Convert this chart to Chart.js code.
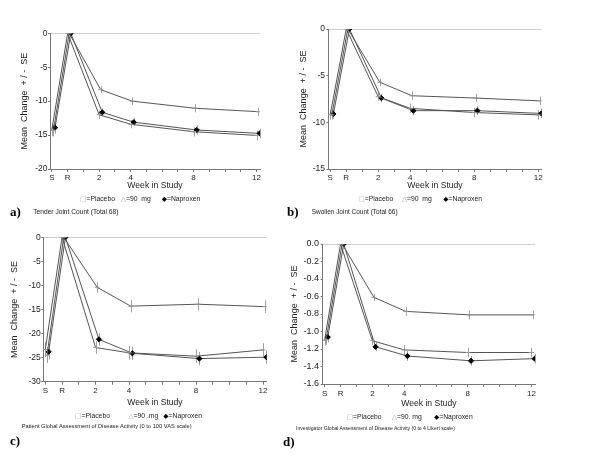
<!DOCTYPE html>
<html><head><meta charset="utf-8">
<script src="https://cdn.jsdelivr.net/npm/chart.js@4/dist/chart.umd.min.js"></script>
<style>
body{margin:0;background:#fff;}
#wrap{position:relative;width:600px;height:470px;overflow:hidden;font-family:"Liberation Sans",Arial,sans-serif;color:#222;background:#fff;}
canvas{position:absolute;left:0;top:0;}
.t{position:absolute;white-space:nowrap;line-height:1;}
.lg{font-size:6.8px;}
.sym{font-family:"DejaVu Sans",sans-serif;color:#aaa;font-size:6.8px;}
.symk{font-family:"DejaVu Sans",sans-serif;color:#000;font-size:6.8px;}
.note{font-size:6.2px;}
.lab{font-family:"Liberation Serif","Times New Roman",serif;font-weight:bold;font-size:13px;color:#000;}
</style></head>
<body><div id="wrap">
<canvas id="ca" width="600" height="470"></canvas>
<canvas id="cb" width="600" height="470"></canvas>
<canvas id="cc" width="600" height="470"></canvas>
<canvas id="cd" width="600" height="470"></canvas>

<div class="t lg" style="left:80px;top:196px"><span class="sym">□</span>=Placebo</div>
<div class="t lg" style="left:120.7px;top:196px"><span class="sym">△</span>=90&nbsp; mg</div>
<div class="t lg" style="left:161.7px;top:196px"><span class="symk">◆</span>=Naproxen</div>
<div class="t note" id="na" style="left:33.3px;top:209.2px">Tender Joint Count (Total 68)</div>
<div class="t lab" style="left:10px;top:205.3px">a)</div>

<div class="t lg" style="left:358.3px;top:195.7px"><span class="sym">□</span>=Placebo</div>
<div class="t lg" style="left:401.7px;top:195.7px"><span class="sym">△</span>=90&nbsp; mg</div>
<div class="t lg" style="left:443.3px;top:195.7px"><span class="symk">◆</span>=Naproxen</div>
<div class="t note" id="nb" style="left:311.7px;top:209.2px">Swollen Joint Count (Total 66)</div>
<div class="t lab" style="left:287px;top:205.3px">b)</div>

<div class="t lg" style="left:75px;top:413.3px"><span class="sym">□</span>=Placebo</div>
<div class="t lg" style="left:128.3px;top:413.3px"><span class="sym">△</span>=90 .mg</div>
<div class="t lg" style="left:163.3px;top:413.3px"><span class="symk">◆</span>=Naproxen</div>
<div class="t note" id="nc" style="left:21.7px;top:423.7px">Patient Global Assessment of Disease Activity (0 to 100 VAS scale)</div>
<div class="t lab" style="left:10px;top:434.3px">c)</div>

<div class="t lg" style="left:346.7px;top:414px"><span class="sym">□</span>=Placebo</div>
<div class="t lg" style="left:391.7px;top:414px"><span class="sym">△</span>=90. mg</div>
<div class="t lg" style="left:434px;top:414px"><span class="symk">◆</span>=Naproxen</div>
<div class="t note" id="nd" style="left:296px;top:425.5px">Investigator Global Assessment of Disease Activity (0 to 4 Likert scale)</div>
<div class="t lab" style="left:283px;top:435px">d)</div>
</div>
<script>
// ---- data ----
const weeks = [-1, 0, 2, 4, 8, 12];
const tickMarks = [-1,0,1,2,3,4,5,6,7,8,9,10,11,12];
const tickValues = [-1, 0, 2, 4, 8, 12];
const tickText = ["S", "R", "2", "4", "8", "12"];
const seriesNames = ["Placebo", "90 mg", "Naproxen"];
const dodge = [0.1, 0, 0.2];

// a) Tender joint count
const aPlacebo   = [-14.3, 0, -8.3, -10.0, -11.05, -11.55];
const a90mg      = [-14.2, 0, -12.0, -13.4, -14.5, -15.05];
const aNaproxen  = [-13.9, 0, -11.65, -13.1, -14.25, -14.75];
const aPlaceboSE = [0.9, 0, 0.5, 0.55, 0.6, 0.6];
const a90mgSE    = [0.9, 0, 0.6, 0.6, 0.7, 0.7];
const aNaproxenSE= [0.9, 0, 0.6, 0.6, 0.7, 0.7];

// b) Swollen joint count
const bPlacebo   = [-9.2, 0, -5.7, -7.15, -7.4, -7.7];
const b90mg      = [-9.2, 0, -7.25, -8.5, -8.95, -9.2];
const bNaproxen  = [-9.1, 0, -7.4, -8.75, -8.75, -9.05];
const bPlaceboSE = [0.5, 0, 0.4, 0.45, 0.45, 0.45];
const b90mgSE    = [0.5, 0, 0.45, 0.5, 0.5, 0.5];
const bNaproxenSE= [0.5, 0, 0.45, 0.5, 0.5, 0.5];

// c) Patient global assessment
const cPlacebo   = [-24.5, 0, -10.4, -14.3, -13.9, -14.4];
const c90mg      = [-23.3, 0, -22.9, -24.0, -24.7, -23.4];
const cNaproxen  = [-23.8, 0, -21.2, -24.1, -25.2, -24.9];
const cPlaceboSE = [1.6, 0, 1.1, 1.3, 1.3, 1.3];
const c90mgSE    = [1.6, 0, 1.3, 1.4, 1.4, 1.4];
const cNaproxenSE= [1.6, 0, 1.3, 1.4, 1.4, 1.4];

// d) Investigator global assessment
const dPlacebo   = [-1.09, 0, -0.61, -0.77, -0.81, -0.81];
const d90mg      = [-1.1, 0, -1.105, -1.21, -1.24, -1.24];
const dNaproxen  = [-1.065, 0, -1.175, -1.28, -1.335, -1.31];
const dPlaceboSE = [0.06, 0, 0.04, 0.05, 0.05, 0.05];
const d90mgSE    = [0.06, 0, 0.05, 0.055, 0.055, 0.055];
const dNaproxenSE= [0.06, 0, 0.05, 0.055, 0.055, 0.055];

// ---- drawing ----
const FONT = "'Liberation Sans', Arial, sans-serif";
const errorBars = {
  id: 'errorBars',
  beforeDatasetsDraw(chart) {
    const ctx = chart.ctx, ys = chart.scales.y;
    chart.data.datasets.forEach((ds, di) => {
      const meta = chart.getDatasetMeta(di);
      ds.se.forEach((e, i) => {
        if (!e) return;
        const pt = meta.data[i], v = ds.data[i].y;
        ctx.save();
        ctx.strokeStyle = '#a0a0a0';
        ctx.lineWidth = 1;
        ctx.beginPath();
        ctx.moveTo(Math.round(pt.x) + 0.5, ys.getPixelForValue(v + e));
        ctx.lineTo(Math.round(pt.x) + 0.5, ys.getPixelForValue(v - e));
        ctx.stroke();
        ctx.restore();
      });
    });
  }
};

function series(vals, se, k) {
  const styles = [
    {pointStyle: 'line', pointRadius: 2.5, pointBorderColor: '#999', pointBackgroundColor: '#999'},
    {pointStyle: 'line', pointRadius: 2.5, pointBorderColor: '#999', pointBackgroundColor: '#999'},
    {pointStyle: 'rectRot', pointRadius: 2.6, pointBorderColor: '#000', pointBackgroundColor: '#000'}
  ];
  return Object.assign({
    label: seriesNames[k],
    data: vals.map((v, i) => ({x: weeks[i] + dodge[k], y: v})),
    se: se,
    showLine: true,
    borderColor: '#555',
    borderWidth: 1,
    tension: 0,
    pointBorderWidth: 1
  }, styles[k]);
}

function panel(id, data, o) {
  new Chart(document.getElementById(id), {
    type: 'scatter',
    data: {datasets: data},
    plugins: [errorBars],
    options: {
      responsive: false, animation: false, devicePixelRatio: 1,
      layout: {padding: {left: o.yLeft, top: o.top, right: 600 - o.right, bottom: 470 - o.bottom - o.xH}},
      plugins: {legend: {display: false}, tooltip: {enabled: false}},
      scales: {
        x: {
          type: 'linear', min: -1.12, max: 12.22,
          afterBuildTicks: s => { s.ticks = tickMarks.map(v => ({value: v})); },
          afterFit: s => { s.height = o.xH; },
          ticks: {autoSkip: false, maxRotation: 0, color: '#222', padding: o.xPad,
            font: {size: 8, family: FONT},
            callback: v => { const i = tickValues.indexOf(v); return i >= 0 ? tickText[i] : ''; }},
          grid: {drawOnChartArea: false, tickColor: '#777', tickLength: 3},
          border: {color: '#777', width: 1},
          title: {display: true, text: 'Week in Study', color: '#222',
            font: {size: 8.6, family: FONT}, padding: {top: 0, bottom: o.xtPad}}
        },
        y: {
          type: 'linear', min: o.min, max: 0,
          afterFit: s => { s.width = o.left - o.yLeft; },
          ticks: {stepSize: o.step, color: '#222', padding: o.yPad,
            font: {size: o.yFont, family: FONT},
            callback: v => o.dec ? v.toFixed(o.dec) : String(Math.round(v))},
          grid: {drawOnChartArea: true, tickLength: 2, tickColor: '#777',
            color: c => (c.tick && Math.abs(c.tick.value) < 1e-9) ? '#cfcfcf' : 'rgba(0,0,0,0)'},
          border: {color: '#777', width: 1},
          title: {display: true, text: 'Mean  Change  + / -  SE', color: '#222',
            font: {size: 9, family: FONT}, padding: {top: 0, bottom: 0}}
        }
      }
    }
  });
}

panel('ca', [series(aPlacebo, aPlaceboSE, 0), series(a90mg, a90mgSE, 1), series(aNaproxen, aNaproxenSE, 2)],
  {yLeft: 19.6, left: 50, right: 260, top: 33.3, bottom: 169, xH: 28, xPad: 0.5, xtPad: 5.9, min: -20, step: 5, yPad: 0.5, yFont: 8.5, dec: 0});
panel('cb', [series(bPlacebo, bPlaceboSE, 0), series(b90mg, b90mgSE, 1), series(bNaproxen, bNaproxenSE, 2)],
  {yLeft: 298.6, left: 328.3, right: 541.7, top: 29, bottom: 169, xH: 28, xPad: 0.5, xtPad: 5.9, min: -15, step: 5, yPad: 1.3, yFont: 8.5, dec: 0});
panel('cc', [series(cPlacebo, cPlaceboSE, 0), series(c90mg, c90mgSE, 1), series(cNaproxen, cNaproxenSE, 2)],
  {yLeft: 9.6, left: 43.3, right: 266.7, top: 237.3, bottom: 381.7, xH: 28, xPad: 1.5, xtPad: 2, min: -30, step: 5, yPad: 0.6, yFont: 8.5, dec: 0});
panel('cd', [series(dPlacebo, dPlaceboSE, 0), series(d90mg, d90mgSE, 1), series(dNaproxen, dNaproxenSE, 2)],
  {yLeft: 289.1, left: 322.7, right: 535, top: 244, bottom: 384, xH: 28, xPad: 1.8, xtPad: 3.3, min: -1.6, step: 0.2, yPad: 1.7, yFont: 9, dec: 1});

// fit note text widths to the reference
function fit(id, w) {
  const el = document.getElementById(id);
  const s = parseFloat(getComputedStyle(el).fontSize);
  const cw = el.getBoundingClientRect().width;
  el.style.fontSize = (s * w / cw) + 'px';
}
fit('na', 85); fit('nb', 86); fit('nc', 170); fit('nd', 159);
</script>
</body></html>
